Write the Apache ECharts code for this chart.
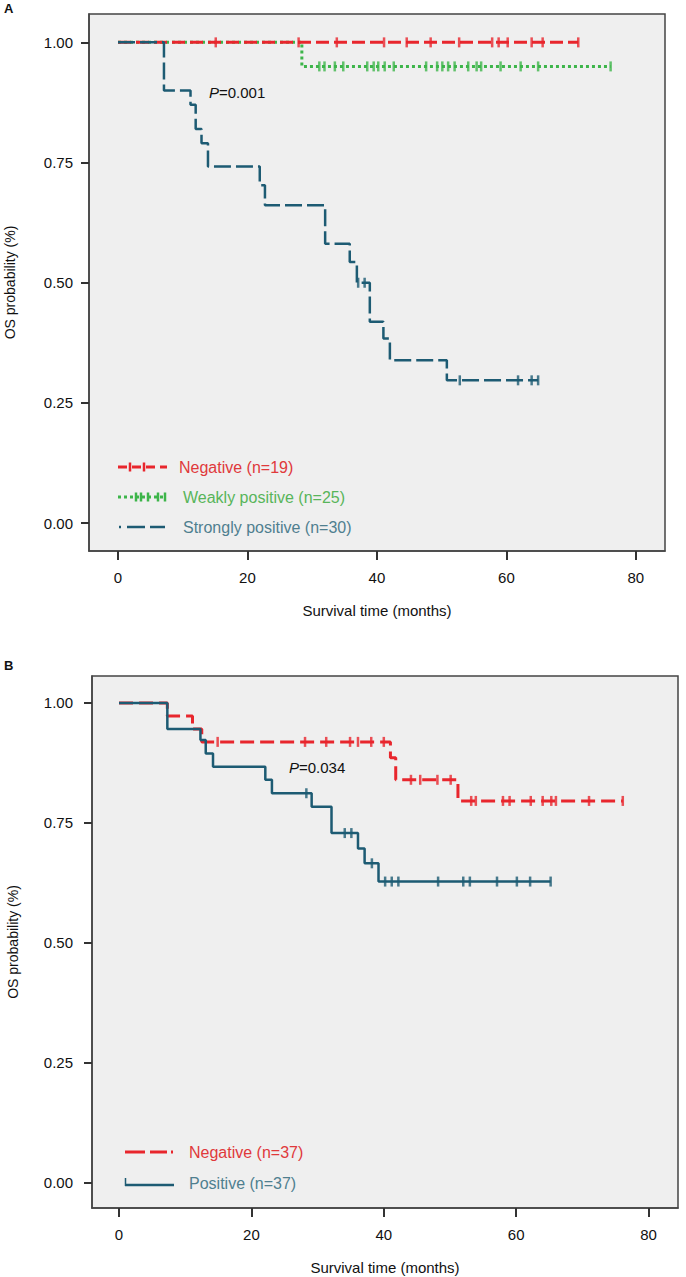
<!DOCTYPE html>
<html><head><meta charset="utf-8">
<script src="https://cdn.jsdelivr.net/npm/echarts@6/dist/echarts.min.js"></script>
<style>html,body{margin:0;padding:0;background:#fff}#c{width:686px;height:1277px}</style>
</head><body><div id="c"></div>
<script>
// ---------- Data (months, survival probability) ----------
const xTicks = [0, 20, 40, 60, 80];
const yTicks = [0, 0.25, 0.5, 0.75, 1];

// Panel A
const aNegTime = [0, 71.1];
const aNegSurv = [1, 1];
const aNegCensor = [15.1, 27.9, 33.8, 41.1, 44.6, 48.3, 52.7, 57.8, 58.8, 60.2, 63.9, 65.6, 71.1];

const aWeakTime = [0, 28.4, 76.1];
const aWeakSurv = [1, 0.95, 0.95];
const aWeakCensor = [31.1, 31.9, 33.5, 34.8, 38.5, 39.5, 40.2, 41.2, 42.6, 47.6, 49.3, 50.1, 51.0, 52.0, 54.1, 55.4, 56.1, 59.1, 62.2, 64.9, 76.1];

const aStrongTime = [0, 7.1, 11.2, 12.0, 12.9, 13.9, 21.9, 22.7, 32.0, 35.8, 36.9, 38.9, 41.0, 42.0, 50.8, 64.9];
const aStrongSurv = [1, 0.90, 0.87, 0.82, 0.79, 0.742, 0.703, 0.661, 0.581, 0.543, 0.50, 0.419, 0.384, 0.339, 0.297, 0.297];
const aStrongCensor = [37.1, 38.1, 52.8, 61.8, 63.9, 64.9];

// Panel B
const bNegTime = [0, 7.3, 11.1, 12.5, 41.0, 41.8, 51.2, 76.1];
const bNegSurv = [1, 0.973, 0.946, 0.919, 0.886, 0.84, 0.796, 0.796];
const bNegCensor = [14.9, 28.1, 31.3, 34.9, 36.1, 38.1, 40.0, 44.1, 45.5, 48.1, 50.1, 53.2, 53.9, 58.0, 59.0, 62.2, 64.0, 65.3, 66.0, 71.0, 76.1];

const bPosTime = [0, 7.3, 12.3, 13.1, 14.2, 22.1, 23.1, 29.1, 32.1, 36.1, 37.1, 39.2, 65.2];
const bPosSurv = [1, 0.946, 0.923, 0.895, 0.867, 0.84, 0.812, 0.784, 0.729, 0.697, 0.666, 0.628, 0.628];
const bPosCensor = [28.3, 34.1, 35.1, 38.2, 40.2, 41.2, 42.2, 48.2, 52.0, 53.0, 57.1, 60.1, 62.1, 65.2];

// ---------- helpers ----------
const RED = '#e8262d', GREEN = '#3db54a', BLUE = '#1d5b73';
const FONT = 'Liberation Sans, Arial, sans-serif';
function pairs(t, s) { return t.map((v, i) => [v, s[i]]); }
function levelAt(t, s, x) { let v = s[0]; for (let i = 0; i < t.length; i++) { if (t[i] <= x) v = s[i]; } return v; }
function censorPts(t, s, c) { return c.map(x => [x, levelAt(t, s, x)]); }

function makeX(gi, min, max) {
  return {
    gridIndex: gi, type: 'value', min: min, max: max,
    name: 'Survival time (months)', nameLocation: 'middle', nameGap: 52,
    nameTextStyle: { fontSize: 15, color: '#111', fontFamily: FONT },
    axisLine: { show: true, onZero: false, lineStyle: { color: '#444', width: 1.5 } },
    axisTick: { show: true, customValues: xTicks, length: 9, lineStyle: { color: '#333', width: 2 } },
    axisLabel: { customValues: xTicks, fontSize: 15, color: '#111', margin: 19, fontFamily: FONT },
    splitLine: { show: false }
  };
}
function makeY(gi, min, max, margin) {
  return {
    gridIndex: gi, type: 'value', min: min, max: max,
    name: 'OS probability (%)', nameLocation: 'middle', nameGap: 72, nameRotate: 90,
    nameTextStyle: { fontSize: 14, color: '#111', fontFamily: FONT },
    axisLine: { show: true, onZero: false, lineStyle: { color: '#444', width: 1.5 } },
    axisTick: { show: true, customValues: yTicks, length: 8, lineStyle: { color: '#333', width: 2 } },
    axisLabel: { customValues: yTicks, fontSize: 15, color: '#111', margin: margin, fontFamily: FONT,
      formatter: v => v.toFixed(2) },
    splitLine: { show: false }
  };
}
function stepLine(gi, data, color, width, dash, z) {
  return { type: 'line', xAxisIndex: gi, yAxisIndex: gi, step: 'end', data: data, showSymbol: false, symbol: 'none',
    lineStyle: { color: color, width: width, type: dash }, silent: true, animation: false, z: z };
}
function censor(gi, data, color, z) {
  return { type: 'scatter', xAxisIndex: gi, yAxisIndex: gi, data: data, symbol: 'rect', symbolSize: [2.5, 10],
    itemStyle: { color: color }, silent: true, animation: false, z: z };
}

const chart = echarts.init(document.getElementById('c'), null, { renderer: 'svg', width: 686, height: 1277 });

function txt(x, y, s, color, size) {
  return { type: 'text', x: x, y: y, style: { text: s, fill: color, fontSize: size, fontFamily: FONT, verticalAlign: 'middle' } };
}
function bold(x, y, s) {
  return { type: 'text', x: x, y: y, style: { text: s, fill: '#111', fontSize: 13, fontWeight: 'bold', fontFamily: FONT, verticalAlign: 'middle' } };
}
function ptext(x, y, s) {
  return { type: 'text', x: x, y: y, style: { text: '{i|P}' + s, fontSize: 15, fill: '#111', fontFamily: FONT, verticalAlign: 'middle',
      rich: { i: { fontStyle: 'italic', fontSize: 15, fill: '#111', fontFamily: FONT } } } };
}
function seg(x1, y1, x2, y2, color, w, dash) {
  return { type: 'line', shape: { x1: x1, y1: y1, x2: x2, y2: y2 }, style: { stroke: color, lineWidth: w, lineDash: dash || null } };
}
function tick(x, y, color, h) {
  return { type: 'rect', shape: { x: x - 1.25, y: y - h / 2, width: 2.5, height: h }, style: { fill: color } };
}

const graphics = [
  bold(4, 8, 'A'),
  bold(4, 665, 'B'),
  ptext(209, 92, '=0.001'),
  ptext(289, 767, '=0.034'),
  // Legend A
  seg(118, 467, 167, 467, RED, 3, [9, 5]),
  tick(130, 467, RED, 9), tick(144, 467, RED, 9),
  txt(179, 467, 'Negative (n=19)', '#e0393b', 16),
  seg(118, 497, 166, 497, GREEN, 3, [3, 3]),
  tick(136, 497, GREEN, 9), tick(141, 497, GREEN, 9), tick(148, 497, GREEN, 9), tick(158, 497, GREEN, 9), tick(165, 497, GREEN, 9),
  txt(183, 497, 'Weakly positive (n=25)', '#58b55a', 16),
  seg(119, 527, 121, 527, BLUE, 2.5), seg(127, 527, 145, 527, BLUE, 2.5), seg(150, 527, 165, 527, BLUE, 2.5),
  txt(183, 527, 'Strongly positive (n=30)', '#4f7f8f', 16),
  // Legend B
  seg(125, 1152, 145, 1152, RED, 3), seg(150, 1152, 167, 1152, RED, 3), seg(171, 1152, 173, 1152, RED, 3),
  txt(189, 1152, 'Negative (n=37)', '#e0393b', 16),
  seg(125, 1185, 174, 1185, BLUE, 2.5), seg(125.5, 1178, 125.5, 1186, BLUE, 1.5),
  txt(189, 1183, 'Positive (n=37)', '#4f7f8f', 16)
];

const option = {
  backgroundColor: '#ffffff',
  animation: false,
  grid: [
    { left: 89, top: 14, width: 576, height: 537, show: true, backgroundColor: '#efefef', borderColor: '#444', borderWidth: 1.5, containLabel: false, outerBoundsMode: 'none' },
    { left: 92, top: 676, width: 586, height: 532, show: true, backgroundColor: '#efefef', borderColor: '#444', borderWidth: 1.5, containLabel: false, outerBoundsMode: 'none' }
  ],
  xAxis: [makeX(0, -4.48, 84.5), makeX(1, -4.08, 84.44)],
  yAxis: [makeY(0, -0.058, 1.059, 16), makeY(1, -0.0521, 1.05625, 19)],
  series: [
    stepLine(0, pairs(aWeakTime, aWeakSurv), GREEN, 3, [3, 3], 3),
    stepLine(0, pairs(aNegTime, aNegSurv), RED, 3, [13, 5], 4),
    stepLine(0, pairs(aStrongTime, aStrongSurv), BLUE, 2.5, [17, 5], 5),
    censor(0, censorPts(aWeakTime, aWeakSurv, aWeakCensor), GREEN, 6),
    censor(0, censorPts(aNegTime, aNegSurv, aNegCensor), RED, 6),
    censor(0, censorPts(aStrongTime, aStrongSurv, aStrongCensor), BLUE, 6),
    stepLine(1, pairs(bNegTime, bNegSurv), RED, 3, [14, 6], 4),
    stepLine(1, pairs(bPosTime, bPosSurv), BLUE, 2.5, 'solid', 5),
    censor(1, censorPts(bNegTime, bNegSurv, bNegCensor), RED, 6),
    censor(1, censorPts(bPosTime, bPosSurv, bPosCensor), BLUE, 6)
  ],
  graphic: graphics
};
chart.setOption(option);
</script></body></html>
